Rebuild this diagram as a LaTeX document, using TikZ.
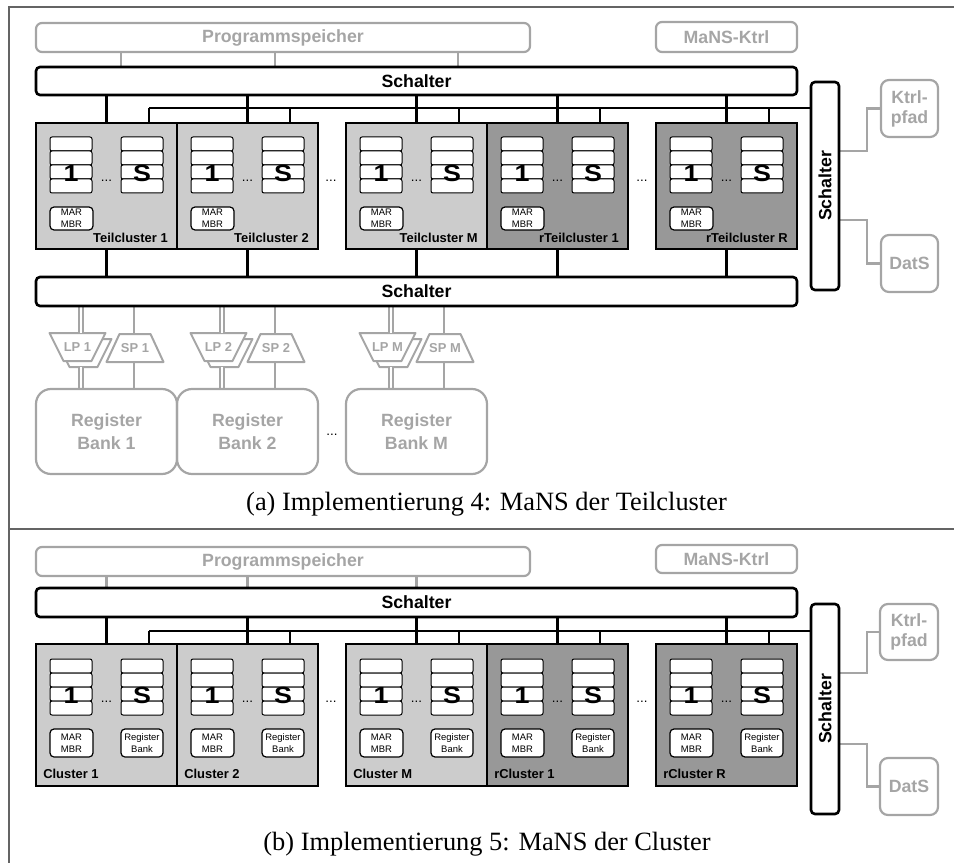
\documentclass[tikz,border=0pt]{standalone}
\usepackage{fontspec}
\usepackage{graphicx}
\setmainfont{Liberation Serif}
\setsansfont{Liberation Sans}
\usetikzlibrary{calc}
\pgfdeclarelayer{back}
\pgfsetlayers{back,main}
\def\PX{0.75pt}
\definecolor{periph}{RGB}{165,165,165}
\definecolor{tcfill}{RGB}{204,204,204}
\definecolor{rtcfill}{RGB}{152,152,152}
\definecolor{framegray}{RGB}{100,100,100}
\newcommand{\widebold}[1]{\scalebox{1.15}[1]{#1}}
\tikzset{
  sz/.style 2 args={minimum width=#1*\PX, minimum height=#2*\PX},
  switchbox/.style={draw, line width=2.6*\PX, rounded corners=4*\PX, fill=white,
    inner sep=0pt, outer sep=0pt, font=\sffamily\bfseries\fontsize{13.3}{15}\selectfont},
  periphbox/.style={draw=periph, line width=2.2*\PX, rounded corners=6*\PX,
    inner sep=0pt, outer sep=0pt, text=periph, align=center,
    font=\sffamily\bfseries\fontsize{13.3}{15}\selectfont},
  bankbox/.style={periphbox, rounded corners=15*\PX},
  clusterbox/.style={draw, line width=2.8*\PX, inner sep=0pt, outer sep=0pt},
  regrow/.style={draw, line width=1*\PX, rounded corners=2*\PX, fill=white,
    inner sep=0pt, outer sep=0pt, sz={42}{14}},
  bignum/.style={font=\sffamily\bfseries\fontsize{17.5}{17.5}\selectfont, inner sep=0pt},
  smallbox/.style={draw, line width=1.2*\PX, rounded corners=4*\PX, fill=white,
    inner sep=0pt, outer sep=0pt, align=center,
    font=\sffamily\fontsize{7.1}{8.8}\selectfont},
  clab/.style={font=\sffamily\bfseries\fontsize{9.7}{11}\selectfont, inner sep=0pt},
  dotsnode/.style={font=\sffamily\fontsize{10}{10}\selectfont, inner sep=0pt},
  wire/.style={draw, line width=2.2*\PX},
  pwire/.style={draw=periph, line width=2.2*\PX},
  dwire/.style={draw=periph, line width=1.6*\PX, double=white, double distance=2.6*\PX},
  lptext/.style={text=periph, font=\sffamily\bfseries\fontsize{9.7}{11}\selectfont,
    inner sep=0pt, outer sep=0pt, sz={56}{28}},
  trap/.style={draw=periph, line width=2*\PX, fill=white, line join=round},
  captext/.style={font=\fontsize{19.8}{24}\selectfont, inner sep=0pt},
  frameline/.style={draw=framegray, line width=1.8*\PX},
}
\begin{document}
\begin{tikzpicture}[x=0.75pt, y=-0.75pt]
\useasboundingbox (0,0) rectangle (954,863);

% ---------- frame ----------
\draw[frameline] (9,863) -- (9,7) -- (954,7);
\draw[frameline] (9,529) -- (954,529);

% ================= (a) =================
\node[periphbox, sz={494}{29}] (pma) at (283,37.5) {Programmspeicher};
\node[periphbox, sz={141}{30}] (mka) at (726.5,37) {MaNS-Ktrl};
\node[switchbox, sz={761}{28}] (swa) at (416.5,81) {Schalter};
\node[switchbox, sz={761}{29}] (lswa) at (416.5,291.5) {Schalter};
\node[switchbox, sz={28}{208}] (rswa) at (825,186) {\rotatebox{90}{Schalter}};
\node[periphbox, rounded corners=8*\PX, sz={57}{57}] (kpa) at (909.5,108.5) {Ktrl-\\pfad};
\node[periphbox, rounded corners=8*\PX, sz={57}{57}] (dsa) at (909.5,263.5) {DatS};
\coordinate (busa) at (149,108);
\path (121,0) coordinate (ga1) (275,0) coordinate (ga2) (458,0) coordinate (ga3);

\begin{pgfonlayer}{back}
  \foreach \g in {1,2,3} \draw[pwire] (pma.south -| ga\g) -- (swa.north -| ga\g);
  \draw[wire] (busa) -- (busa -| rswa.west);
  \draw[pwire] ([yshift=35*\PX]rswa.east) -- ++(28,0) |- (kpa.west);
  \draw[pwire] ([yshift=-34*\PX]rswa.east) -- ++(28,0) |- (dsa.west);
\end{pgfonlayer}

\foreach \i/\cx/\fc/\lab in {1/106.5/tcfill/Teilcluster 1, 2/247.5/tcfill/Teilcluster 2,
    M/416.5/tcfill/Teilcluster M, r1/557.5/rtcfill/rTeilcluster 1, rR/726.5/rtcfill/rTeilcluster R}{
  \node[clusterbox, sz={141}{126}, fill=\fc] (ca\i) at (\cx,186) {};
  \foreach \r/\ry in {1/144,2/158,3/172,4/186}{
    \node[regrow] (ca\i a\r) at (\cx-35.5,\ry) {};
    \node[regrow] (ca\i b\r) at (\cx+35.5,\ry) {};
  }
  \node[bignum] (ca\i x) at (\cx-35.5,173.5) {\widebold{1}};
  \node[bignum] (ca\i y) at (\cx+35.5,173.5) {\widebold{S}};
  \node[dotsnode] (ca\i d) at (\cx,181) {...};
  \node[smallbox, sz={43}{23}] (ca\i m) at (\cx-35,218.5) {MAR\\MBR};
  \node[clab, anchor=east] (ca\i l) at (\cx+61.5,238) {\lab};
  \coordinate (ca\i t) at ([xshift=42.5*\PX]ca\i.north);
  \begin{pgfonlayer}{back}
    \draw[wire] (ca\i.north) -- (ca\i.north |- swa.south);
    \draw[wire] (ca\i t) -- (ca\i t |- busa);
    \draw[wire] (ca\i.south) -- (ca\i.south |- lswa.north);
  \end{pgfonlayer}
}
\node[dotsnode] (dca1) at (331,181) {...};
\node[dotsnode] (dca2) at (642,181) {...};

% load/store units and register banks
\foreach \i/\cx/\nm in {1/106.5/1, 2/247.5/2, M/416.5/M}{
  \node[lptext] (lpa\i) at (\cx-29,347) {LP \nm};
  \node[lptext, sz={57}{28}] (spa\i) at (\cx+28.5,348) {SP \nm};
  \node[bankbox, sz={141}{85}] (bka\i) at (\cx,431.5) {Register\\[2pt]Bank \nm};
  \coordinate (dla\i) at (\cx-25.5,0);
  \coordinate (sla\i) at (\cx+27.5,0);
  \coordinate (lpba\i) at ($(lpa\i.south)+(0,6)$);
  \begin{pgfonlayer}{back}
    \draw[trap] ($(lpa\i.north west)+(6,6)$) -- ($(lpa\i.north east)+(6,6)$)
      -- ($(lpa\i.south east)+(-8,6)$) -- ($(lpa\i.south west)+(20,6)$) -- cycle;
    \draw[trap] (lpa\i.north west) -- (lpa\i.north east)
      -- ($(lpa\i.south east)+(-14,0)$) -- ($(lpa\i.south west)+(14,0)$) -- cycle;
    \draw[trap] ($(spa\i.north west)+(13,0)$) -- ($(spa\i.north east)+(-13,0)$)
      -- (spa\i.south east) -- (spa\i.south west) -- cycle;
    \draw[dwire] (lswa.south -| dla\i) -- (lpa\i.north -| dla\i);
    \draw[dwire] (lpba\i -| dla\i) -- (bka\i.north -| dla\i);
    \draw[pwire] (lswa.south -| sla\i) -- (spa\i.north -| sla\i);
    \draw[pwire] (spa\i.south -| sla\i) -- (bka\i.north -| sla\i);
  \end{pgfonlayer}
}
\node[dotsnode] (dba) at (332,435) {...};

\node[captext, anchor=base] (capa) at (486.5,510) {(a)\ Implementierung 4: MaNS der Teilcluster};

% ================= (b) =================
\node[periphbox, sz={494}{29}] (pmb) at (283,561.5) {Programmspeicher};
\node[periphbox, sz={141}{28}] (mkb) at (726.5,559) {MaNS-Ktrl};
\node[switchbox, sz={761}{29}] (swb) at (416.5,602.5) {Schalter};
\node[switchbox, sz={28}{210}] (rswb) at (825,709) {\rotatebox{90}{Schalter}};
\node[periphbox, rounded corners=8*\PX, sz={58}{56}] (kpb) at (909,632) {Ktrl-\\pfad};
\node[periphbox, rounded corners=8*\PX, sz={58}{57}] (dsb) at (909,786.5) {DatS};
\coordinate (busb) at (149,631);

\begin{pgfonlayer}{back}
  \draw[wire] (busb) -- (busb -| rswb.west);
  \draw[pwire] ([yshift=36*\PX]rswb.east) -- ++(28,0) |- (kpb.west);
  \draw[pwire] ([yshift=-35*\PX]rswb.east) -- ++(28,0) |- (dsb.west);
\end{pgfonlayer}

\foreach \i/\cx/\fc/\lab in {1/106.5/tcfill/Cluster 1, 2/247.5/tcfill/Cluster 2,
    M/416.5/tcfill/Cluster M, r1/557.5/rtcfill/rCluster 1, rR/726.5/rtcfill/rCluster R}{
  \node[clusterbox, sz={141}{142}, fill=\fc] (cb\i) at (\cx,715) {};
  \foreach \r/\ry in {1/666,2/680,3/694,4/708}{
    \node[regrow] (cb\i a\r) at (\cx-35.5,\ry) {};
    \node[regrow] (cb\i b\r) at (\cx+35.5,\ry) {};
  }
  \node[bignum] (cb\i x) at (\cx-35.5,695.5) {\widebold{1}};
  \node[bignum] (cb\i y) at (\cx+35.5,695.5) {\widebold{S}};
  \node[dotsnode] (cb\i d) at (\cx,702) {...};
  \node[smallbox, sz={43}{28}] (cb\i m) at (\cx-35,743) {MAR\\MBR};
  \node[smallbox, sz={42}{28}] (cb\i r) at (\cx+35.5,743) {Register\\Bank};
  \node[clab, anchor=west] (cb\i l) at (\cx-63.5,774) {\lab};
  \coordinate (cb\i t) at ([xshift=42.5*\PX]cb\i.north);
  \begin{pgfonlayer}{back}
    \draw[wire] (cb\i.north) -- (cb\i.north |- swb.south);
    \draw[wire] (cb\i t) -- (cb\i t |- busb);
  \end{pgfonlayer}
}
\begin{pgfonlayer}{back}
  \foreach \i in {1,2,M} \draw[pwire] (pmb.south -| cb\i) -- (swb.north -| cb\i);
\end{pgfonlayer}
\node[dotsnode] (dcb1) at (331,702) {...};
\node[dotsnode] (dcb2) at (642,702) {...};

\node[captext, anchor=base] (capb) at (487,850) {(b)\ Implementierung 5: MaNS der Cluster};
\end{tikzpicture}
\end{document}
